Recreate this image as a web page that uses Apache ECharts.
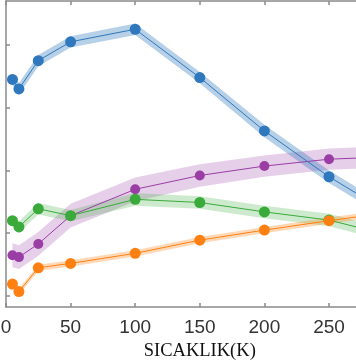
<!DOCTYPE html>
<html><head><meta charset="utf-8">
<script src="https://cdn.jsdelivr.net/npm/echarts@6/dist/echarts.min.js"></script>
<style>html,body{margin:0;padding:0;background:#fff;overflow:hidden;width:356px;height:364px}#c{width:394px;height:364px}</style>
</head><body><div id="c"></div>
<script>
const temps = [5, 10, 25, 50, 100, 150, 200, 250, 300];
const xTicks = [0, 50, 100, 150, 200, 250, 300];
const blueVals   = [4.45, 4.30, 4.75, 5.05, 5.25, 4.48, 3.63, 2.90, 2.28];
const purpleVals = [1.65, 1.62, 1.83, 2.28, 2.70, 2.92, 3.07, 3.18, 3.22];
const greenVals  = [2.20, 2.10, 2.39, 2.28, 2.54, 2.49, 2.34, 2.21, 1.95];
const orangeVals = [1.19, 1.07, 1.45, 1.52, 1.68, 1.89, 2.05, 2.20, 2.34];
const blueBand   = [0.09, 0.09, 0.09, 0.09, 0.09, 0.09, 0.10, 0.10, 0.10];
const purpleBand = [0.19, 0.19, 0.19, 0.19, 0.19, 0.18, 0.17, 0.17, 0.17];
const greenBand  = [0.09, 0.09, 0.09, 0.09, 0.10, 0.10, 0.10, 0.10, 0.10];
const orangeBand = [0.05, 0.05, 0.05, 0.05, 0.05, 0.05, 0.05, 0.05, 0.05];
const yTickValues = [1, 2, 3, 4, 5];

const seriesDefs = [
  {name: 'purple', vals: purpleVals, band: purpleBand, color: '#9a3ea6', fill: 'rgba(154,62,166,0.25)', size: 10},
  {name: 'green',  vals: greenVals,  band: greenBand,  color: '#3aaa3a', fill: 'rgba(58,170,58,0.25)', size: 11},
  {name: 'orange', vals: orangeVals, band: orangeBand, color: '#ff8012', fill: 'rgba(255,128,18,0.3)', size: 11},
  {name: 'blue',   vals: blueVals,   band: blueBand,   color: '#2f78bd', fill: 'rgba(47,120,189,0.35)', size: 11}
];

const series = [];
seriesDefs.forEach(function (d) {
  series.push({
    type: 'custom', z: 1, silent: true,
    data: [[0]],
    renderItem: function (params, api) {
      const up = [], lo = [];
      for (let i = 0; i < temps.length; i++) {
        up.push(api.coord([temps[i], d.vals[i] + d.band[i]]));
        lo.unshift(api.coord([temps[i], d.vals[i] - d.band[i]]));
      }
      return {type: 'polygon', shape: {points: up.concat(lo)}, style: {fill: d.fill}};
    }
  });
});
seriesDefs.forEach(function (d) {
  series.push({
    type: 'line', z: 3, name: d.name,
    data: temps.map(function (t, i) { return [t, d.vals[i]]; }),
    symbol: 'circle', symbolSize: d.size, showSymbol: true,
    lineStyle: {color: d.color, width: 1},
    itemStyle: {color: d.color, borderWidth: 0},
    clip: true
  });
});

const axisLineStyle = {color: '#8a8a8a', width: 1.5};
const chart = echarts.init(document.getElementById('c'));
chart.setOption({
  animation: false,
  grid: {left: 6, top: 1, bottom: 57, right: 0.4, containLabel: false, outerBoundsMode: 'none'},
  xAxis: [{
    type: 'value', min: xTicks[0], max: xTicks[xTicks.length - 1], interval: 50,
    name: 'SICAKLIK(K)', nameLocation: 'middle', nameGap: 33,
    nameTextStyle: {fontFamily: 'Liberation Serif', fontSize: 18.5, color: '#111'},
    axisLine: {show: true, lineStyle: axisLineStyle},
    axisTick: {show: true, inside: true, length: 4, lineStyle: axisLineStyle},
    axisLabel: {fontFamily: 'Liberation Sans', fontSize: 19, color: '#333', margin: 11},
    splitLine: {show: false}
  }, {
    type: 'value', position: 'top', min: xTicks[0], max: xTicks[xTicks.length - 1], interval: 50,
    axisLine: {show: true, lineStyle: axisLineStyle},
    axisTick: {show: true, inside: true, length: 4, lineStyle: axisLineStyle},
    axisLabel: {show: false}, splitLine: {show: false}
  }],
  yAxis: {
    type: 'value', min: 0.825, max: 5.70,
    axisLine: {show: true, lineStyle: axisLineStyle},
    axisTick: {show: true, inside: true, length: 4, lineStyle: axisLineStyle, customValues: yTickValues},
    axisLabel: {show: false, customValues: yTickValues},
    splitLine: {show: false}
  },
  series: series
});
</script></body></html>
